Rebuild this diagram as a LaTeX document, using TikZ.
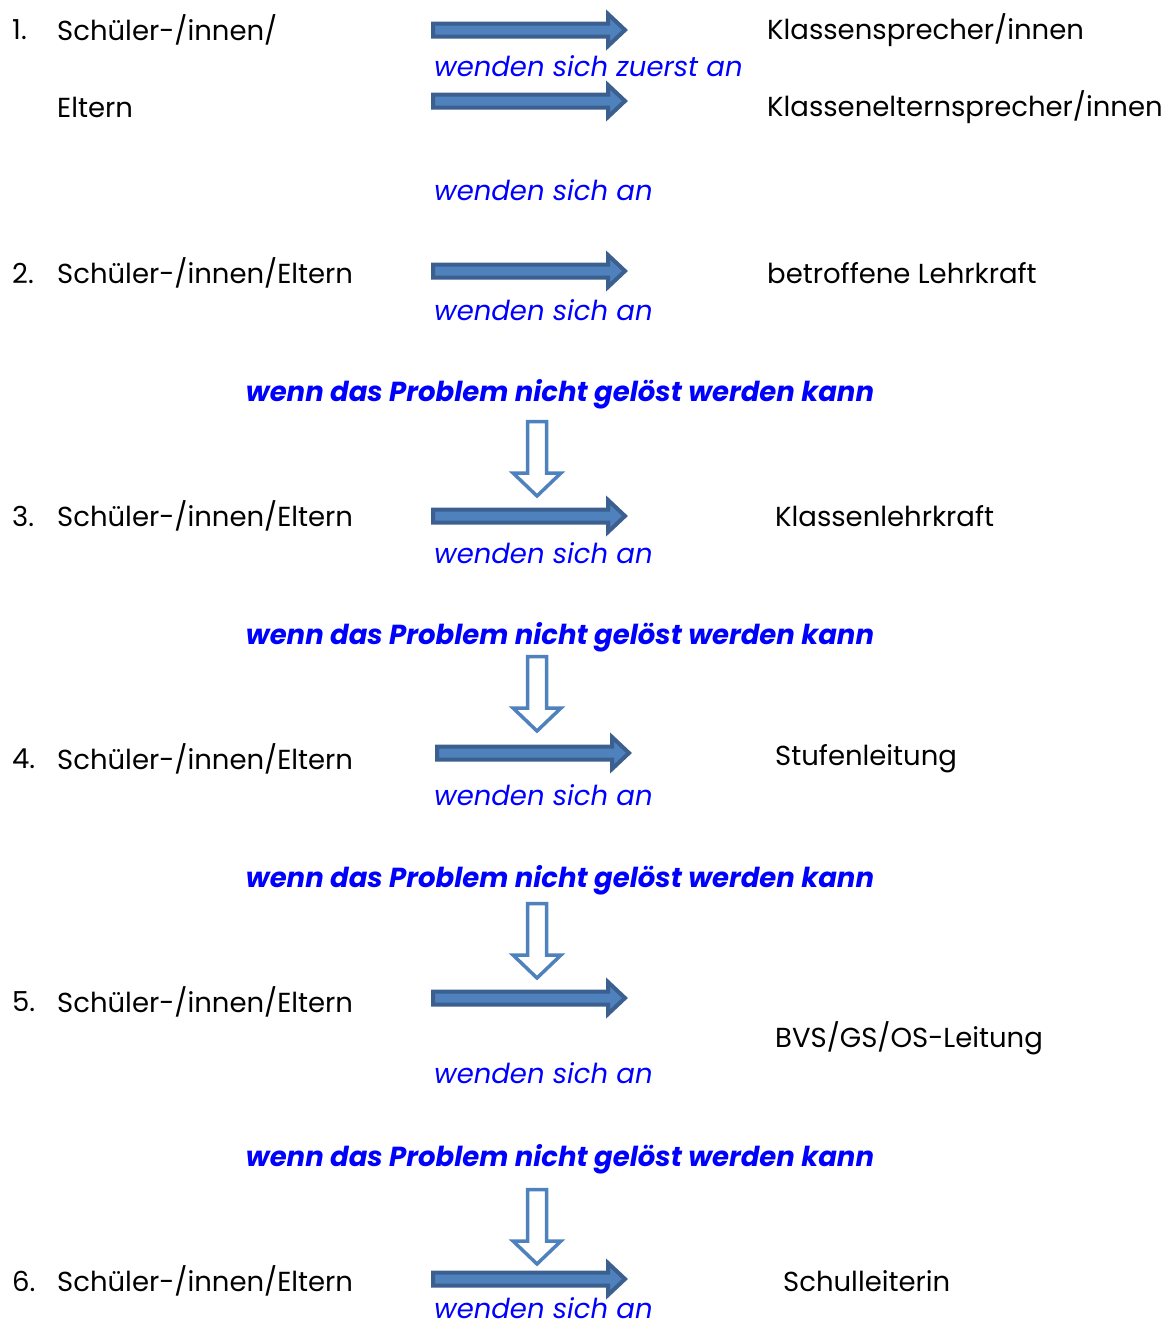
\documentclass[tikz,border=0pt]{standalone}
\usepackage{fontspec}
\setmainfont{Poppins}
\usepackage{tikz}

\definecolor{arrowline}{HTML}{3B5F8E}
\definecolor{arrowfill}{HTML}{4F81BD}
\definecolor{textblue}{HTML}{0000FF}

\tikzset{
  txt/.style={anchor=west, inner sep=0pt, font=\fontsize{27.5}{32}\selectfont},
  verb/.style={txt, text=textblue, font=\fontsize{27.5}{32}\selectfont\itshape},
  cond/.style={inner sep=0pt, text=textblue, font=\fontsize{27.5}{32}\selectfont\bfseries\itshape},
  % block arrow to the right, placed at its left end
  rarrow/.pic={
    \draw[draw=arrowline, fill=arrowfill, line width=4pt, line join=miter]
      (2,-6.5) -- (177,-6.5) -- (177,-16) -- (194,0) -- (177,16)
      -- (177,6.5) -- (2,6.5) -- cycle;
  },
  % hollow arrow pointing down, placed at its top centre
  darrow/.pic={
    \draw[draw=arrowfill, fill=white, line width=3.5pt, line join=miter]
      (-9.5,1.5) -- (9.5,1.5) -- (9.5,53) -- (24,53) -- (0,76)
      -- (-24,53) -- (-9.5,53) -- cycle;
  }
}

\begin{document}
\begin{tikzpicture}[x=1pt, y=-1pt]
  \useasboundingbox (0,0) rectangle (1168,1328);

  % Step 1
  \node[txt] (n1) at (12,30) {1.};
  \node[txt] (s1) at (57,30) {Schüler-/innen/};
  \node[txt] (s1b) at (57,107) {Eltern};
  \pic (a1) at (431,30) {rarrow};
  \pic (a1b) at (431,101) {rarrow};
  \node[verb] (v1) at (434,66) {wenden sich zuerst an};
  \node[txt] (t1) at (767,30) {Klassensprecher/innen};
  \node[txt] (t1b) at (767,107) {Klasseneltern­sprecher/innen};
  \node[verb] (v1b) at (434,190) {wenden sich an};

  % Step 2
  \node[txt] (n2) at (12,273) {2.};
  \node[txt] (s2) at (57,273) {Schüler-/innen/Eltern};
  \pic (a2) at (431,271) {rarrow};
  \node[verb] (v2) at (434,310) {wenden sich an};
  \node[txt] (t2) at (767,273) {betroffene Lehrkraft};

  % Conditions and down arrows
  \node[cond] (c1) at (560,394) {wenn das Problem nicht gelöst werden kann};
  \pic (d1) at (537,420) {darrow};
  \node[cond] (c2) at (560,637) {wenn das Problem nicht gelöst werden kann};
  \pic (d2) at (537,655) {darrow};
  \node[cond] (c3) at (560,880) {wenn das Problem nicht gelöst werden kann};
  \pic (d3) at (537,902) {darrow};
  \node[cond] (c4) at (560,1159) {wenn das Problem nicht gelöst werden kann};
  \pic (d4) at (537,1188) {darrow};

  % Step 3
  \node[txt] (n3) at (12,516) {3.};
  \node[txt] (s3) at (57,516) {Schüler-/innen/Eltern};
  \pic (a3) at (431,516) {rarrow};
  \node[verb] (v3) at (434,553) {wenden sich an};
  \node[txt] (t3) at (775,516) {Klassenlehrkraft};

  % Step 4
  \node[txt] (n4) at (12,759) {4.};
  \node[txt] (s4) at (57,759) {Schüler-/innen/Eltern};
  \pic (a4) at (435,753) {rarrow};
  \node[verb] (v4) at (434,795) {wenden sich an};
  \node[txt] (t4) at (775,759) {Stufenleitung};

  % Step 5
  \node[txt] (n5) at (12,1002) {5.};
  \node[txt] (s5) at (57,1002) {Schüler-/innen/Eltern};
  \pic (a5) at (431,998) {rarrow};
  \node[verb] (v5) at (434,1073) {wenden sich an};
  \node[txt] (t5) at (775,1038) {BVS/GS/OS-Leitung};

  % Step 6
  \node[txt] (n6) at (12,1281) {6.};
  \node[txt] (s6) at (57,1281) {Schüler-/innen/Eltern};
  \pic (a6) at (431,1279) {rarrow};
  \node[verb] (v6) at (434,1308) {wenden sich an};
  \node[txt] (t6) at (783,1281) {Schulleiterin};
\end{tikzpicture}
\end{document}
